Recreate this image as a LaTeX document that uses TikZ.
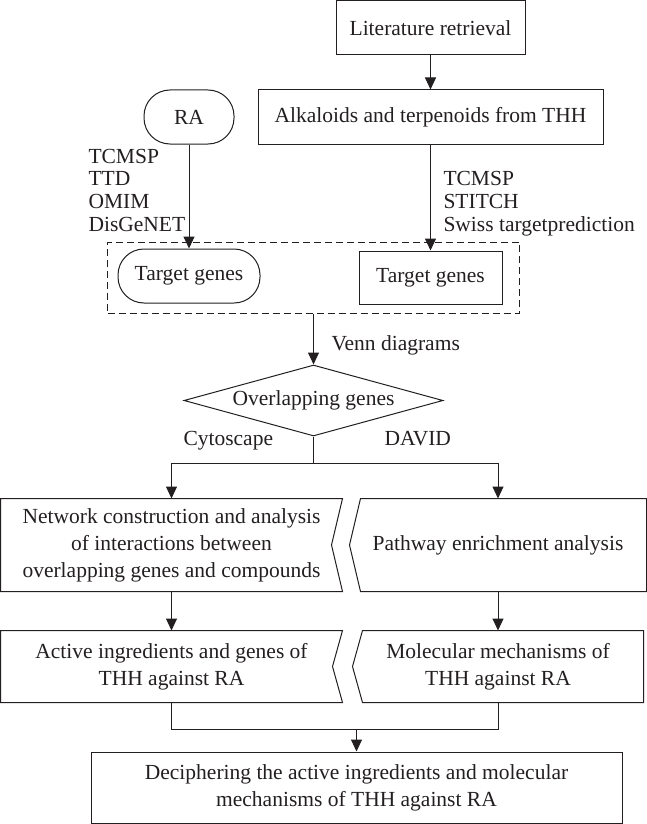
\documentclass[tikz,border=0pt]{standalone}
\usepackage{fontspec}
\setmainfont{Liberation Serif}
\usepackage{xcolor}
\usetikzlibrary{calc}
\usetikzlibrary{arrows.meta}
\usetikzlibrary{shapes.geometric}
\definecolor{ink}{HTML}{231F20}

\begin{document}
\begin{tikzpicture}[x=1pt,y=-1pt,line width=1pt,draw=ink,text=ink,
	every node/.style={font=\fontsize{21.5}{27}\selectfont,inner sep=0pt},
	box/.style={draw,rectangle,align=center},
	pill/.style={draw,rectangle,rounded corners=26pt,align=center},
	shell/.style={rectangle,align=center},
	lbl/.style={anchor=base west},
	arr/.style={-{Triangle[length=12pt,width=11pt]}}]
		  \useasboundingbox (0,0) rectangle (647,824);
		  % top part
		  \node[box,minimum width=189pt,minimum height=54pt] (lit) at (430.5,28) {Literature retrieval};
		  \node[box,minimum width=345pt,minimum height=54pt] (alk) at (430.5,117) {Alkaloids and terpenoids from THH};
		  \node[pill,minimum width=90pt,minimum height=54pt] (ra) at (189,117) {RA};
		  \node[draw,dash pattern=on 7pt off 4pt,minimum width=412pt,minimum height=71pt] (tgbox) at (313.5,277.5) {};
		  \node[pill,minimum width=142pt,minimum height=54pt] (tgl) at (189,276) {Target genes};
		  \node[box,minimum width=143pt,minimum height=53pt] (tgr) at (430.5,277.5) {Target genes};
		  \foreach \i/\txt in {0/TCMSP,1/TTD,2/OMIM,3/DisGeNET}
		  {
		  	\node[lbl] (radb\i) at (88,{163+22.7*\i}) {\txt};
		  }
		  \foreach \i/\txt in {1/TCMSP,2/STITCH,3/Swiss targetprediction}
		  {
		  	\node[lbl] (thhdb\i) at (443,{163+22.7*\i}) {\txt};
		  }
		  \draw[arr] (lit) -- (alk);
		  \draw[arr] (ra) -- (tgl);
		  \draw[arr] (alk) -- (tgr);
		  % overlap
		  \node[draw,diamond,aspect=3.6,minimum width=259pt,minimum height=71pt] (ov) at (313.5,400.5) {Overlapping genes};
		  \draw[arr] (tgbox) -- (ov);
		  \node[lbl] (venn) at (331,350) {Venn diagrams};
		  \node[lbl] (cyto) at (183,445) {Cytoscape};
		  \node[lbl] (david) at (384,445) {DAVID};
		  % two branches
		  \node[shell,minimum width=341pt,minimum height=92pt] (netw) at (171.5,545) {Network construction and analysis\\of interactions between\\overlapping genes and compounds};
		  \node[shell,minimum width=296pt,minimum height=92pt] (path) at (498,545) {Pathway enrichment analysis};
		  \node[shell,minimum width=341pt,minimum height=71pt] (act) at (171.5,666.5) {Active ingredients and genes of\\THH against RA};
		  \node[shell,minimum width=290pt,minimum height=71pt] (mol) at (498,666.5) {Molecular mechanisms of\\THH against RA};
		  \foreach \n/\d in {netw/11,act/10}
		  {
		  	\draw (\n.north west) -- (\n.north east) -- ($(\n.east)+(-\d,0)$) -- (\n.south east) -- (\n.south west) -- cycle;
		  }
		  \foreach \n/\d in {path/11,mol/10}
		  {
		  	\draw ($(\n.north west)+(\d,0)$) -- (\n.north east) -- (\n.south east) -- ($(\n.south west)+(\d,0)$) -- (\n.west) -- cycle;
		  }
		  \draw (ov.south) -- ++(0,27) coordinate (split);
		  \draw[arr] (split) -| (netw.north);
		  \draw[arr] (split) -| (path.north);
		  \draw[arr] (netw) -- (act);
		  \draw[arr] (path) -- (mol);
		  % result
		  \node[box,minimum width=531pt,minimum height=71pt] (fin) at (356.5,787.5) {Deciphering the active ingredients and molecular\\mechanisms of THH against RA};
		  \draw (act.south) -- ++(0,27) coordinate (join) -| (mol.south);
		  \draw[arr] (join -| fin.north) -- (fin.north);
\end{tikzpicture}
\end{document}
